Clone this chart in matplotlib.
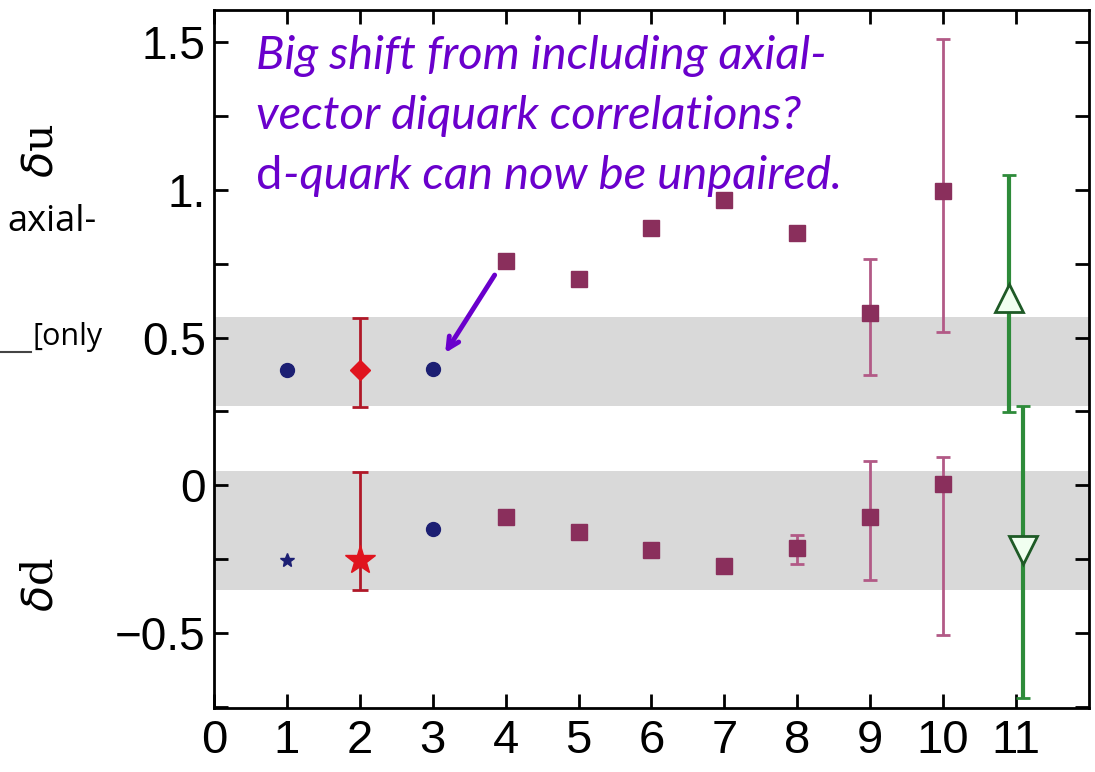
import matplotlib
matplotlib.use("Agg")
import matplotlib.pyplot as plt
from matplotlib.ticker import MultipleLocator, FuncFormatter

# delta-u (upper) and delta-d (lower) tensor charges by model / calculation index
blue_x = [1, 3]
blue_du = [0.39, 0.393]
blue_dd = [-0.254, -0.149]

red_x = [2]
red_du = [0.39]
red_du_lo = [0.264]
red_du_hi = [0.565]
red_dd = [-0.254]
red_dd_lo = [-0.355]
red_dd_hi = [0.044]

sq_x = [4, 5, 6, 7, 8, 9, 10]
sq_du = [0.76, 0.70, 0.873, 0.968, 0.856, 0.585, 0.998]
sq_du_lo = [0.76, 0.70, 0.873, 0.968, 0.856, 0.372, 0.518]
sq_du_hi = [0.76, 0.70, 0.873, 0.968, 0.856, 0.765, 1.513]
sq_dd = [-0.108, -0.159, -0.22, -0.274, -0.213, -0.108, 0.003]
sq_dd_lo = [-0.108, -0.159, -0.22, -0.274, -0.267, -0.32, -0.508]
sq_dd_hi = [-0.108, -0.159, -0.22, -0.274, -0.169, 0.081, 0.095]

lat_x_u = [10.9]
lat_du = [0.633]
lat_du_lo = [0.247]
lat_du_hi = [1.052]
lat_x_d = [11.1]
lat_dd = [-0.22]
lat_dd_lo = [-0.72]
lat_dd_hi = [0.267]

# phenomenological bands
band_u = (0.267, 0.569)
band_d = (-0.355, 0.047)

xticks = list(range(0, 12))

BLUE = "#1c1f73"
RED = "#e0141e"
SQ = "#8a2f5c"
SQ_ERR = "#b25a86"
GREEN = "#2e8b3a"
PURPLE = "#6a00cc"


def yerr(v, lo, hi):
    return [[a - b for a, b in zip(v, lo)], [b - a for a, b in zip(v, hi)]]


fig = plt.figure(figsize=(10.95, 7.72), dpi=100)
ax = fig.add_axes([0.1954, 0.0829, 0.7991, 0.9041])

ax.axhspan(*band_u, color="#d9d9d9", lw=0, zorder=0)
ax.axhspan(*band_d, color="#d9d9d9", lw=0, zorder=0)

# blue points
ax.plot(blue_x, blue_du, "o", color=BLUE, ms=10, zorder=4)
ax.plot(blue_x[:1], blue_dd[:1], "*", color=BLUE, ms=10, zorder=4)
ax.plot(blue_x[1:], blue_dd[1:], "o", color=BLUE, ms=10, zorder=4)

# red points
ax.errorbar(red_x, red_du, yerr=yerr(red_du, red_du_lo, red_du_hi), fmt="D",
            color=RED, ecolor="#b01828", ms=10, elinewidth=2, capsize=6, capthick=2, zorder=4)
ax.errorbar(red_x, red_dd, yerr=yerr(red_dd, red_dd_lo, red_dd_hi), fmt="*",
            color=RED, ecolor="#b01828", ms=22, elinewidth=2, capsize=6, capthick=2, zorder=4)

# squares
ax.errorbar(sq_x, sq_du, yerr=yerr(sq_du, sq_du_lo, sq_du_hi), fmt="s",
            color=SQ, ecolor=SQ_ERR, ms=11, elinewidth=2, capsize=5, capthick=2, zorder=4)
ax.errorbar(sq_x, sq_dd, yerr=yerr(sq_dd, sq_dd_lo, sq_dd_hi), fmt="s",
            color=SQ, ecolor=SQ_ERR, ms=11, elinewidth=2, capsize=5, capthick=2, zorder=4)

# lattice
ax.errorbar(lat_x_u, lat_du, yerr=yerr(lat_du, lat_du_lo, lat_du_hi), fmt="^",
            color=GREEN, mfc="#f0fff0", mec="#1e5a26", mew=2, ms=20,
            elinewidth=3, capsize=5, capthick=2, zorder=4)
ax.errorbar(lat_x_d, lat_dd, yerr=yerr(lat_dd, lat_dd_lo, lat_dd_hi), fmt="v",
            color=GREEN, mfc="#f0fff0", mec="#1e5a26", mew=2, ms=20,
            elinewidth=3, capsize=5, capthick=2, zorder=4)

ax.set_xlim(0, 12)
ax.set_ylim(-0.755, 1.61)
ax.set_xticks(xticks)
ax.yaxis.set_major_locator(MultipleLocator(0.25))


def ylab(v, pos):
    if abs(v * 2 - round(v * 2)) > 1e-6:
        return ""
    if abs(v) < 1e-9:
        return "0"
    if abs(v - 1) < 1e-9:
        return "1."
    return f"{v:.1f}".replace("-", "\u2212")


ax.yaxis.set_major_formatter(FuncFormatter(ylab))
ax.tick_params(direction="in", top=True, right=True, length=10, width=2)
ax.tick_params(axis="x", labelsize=34, pad=8)
ax.tick_params(axis="y", labelsize=33, pad=6)
for lab in ax.get_xticklabels() + ax.get_yticklabels():
    lab.set_family("Liberation Sans")
for s in ax.spines.values():
    s.set_linewidth(2)

fig.text(0.037, 0.805, r"$\delta$u", rotation=90, fontsize=31, family="DejaVu Serif",
         ha="center", va="center")
fig.text(0.037, 0.243, r"$\delta$d", rotation=90, fontsize=31, family="DejaVu Serif",
         ha="center", va="center")

# leftover slide text at the left edge
fig.text(0.007, 0.712, "axial-", fontsize=26, family="Open Sans", va="center")
fig.text(0.03, 0.563, "[only", fontsize=22, family="Open Sans", va="center")
fig.add_artist(plt.Line2D([0.0, 0.028], [0.544, 0.544], color="#444444", lw=1.5))

# annotation
tx, ty = 0.234, 0.928
ax_t = dict(fontsize=34, family="Lato", color=PURPLE, va="center")
fig.text(tx, ty, "Big shift from including axial-", style="italic", **ax_t)
fig.text(tx, ty - 0.078, "vector diquark correlations?", style="italic", **ax_t)
t = fig.text(tx, ty - 0.156, "d", **ax_t)
fig.canvas.draw()
bb = t.get_window_extent()
x2 = fig.transFigure.inverted().transform((bb.x1, 0))[0]
fig.text(x2, ty - 0.156, "-quark can now be unpaired.", style="italic", **ax_t)

ax.annotate("", xy=(3.15, 0.44), xytext=(3.87, 0.72),
            arrowprops=dict(arrowstyle="->,head_length=0.8,head_width=0.4",
                            color=PURPLE, lw=3.5))

fig.savefig("out.png", dpi=100)
